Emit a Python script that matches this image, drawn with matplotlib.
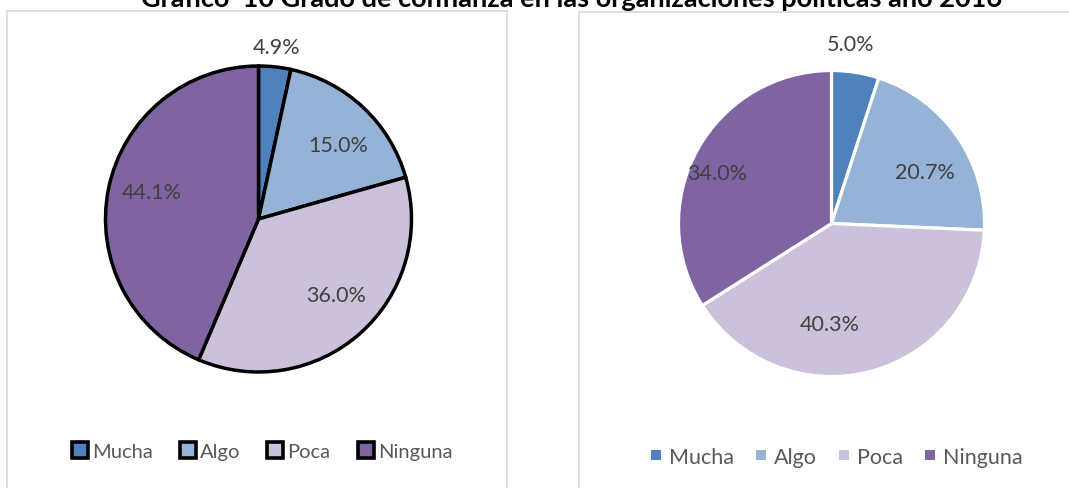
import numpy as np
import matplotlib
matplotlib.use("Agg")
import matplotlib.pyplot as plt
from matplotlib.lines import Line2D
from matplotlib.patches import Rectangle

plt.rcParams["font.family"] = ["Lato", "DejaVu Sans"]

W, H = 1069, 489

TITLE = "Gráfico  10 Grado de confianza en las organizaciones políticas año 2016"
categories = ["Mucha", "Algo", "Poca", "Ninguna"]
colors = ["#4F81BD", "#95B3D7", "#CCC1DA", "#8064A2"]

# left chart: slice shares as drawn, and the percentages printed on it
left_shares = [3.4, 17.2, 35.8, 43.6]
left_pct = [4.9, 15.0, 36.0, 44.1]
# right chart
right_shares = [5.0, 20.7, 40.3, 34.0]
right_pct = [5.0, 20.7, 40.3, 34.0]

LABEL_COLOR = "#404040"
LEGEND_COLOR = "#595959"


def px_axes(fig, x0, y0, x1, y1):
    # pixel box (top-left origin) -> figure axes
    return fig.add_axes([x0 / W, 1 - y1 / H, (x1 - x0) / W, (y1 - y0) / H])


def draw_pie(ax, shares, pct, edge, lw, label_r, label_dt):
    wedges, _ = ax.pie(shares, colors=colors, startangle=90, counterclock=False,
                       wedgeprops=dict(edgecolor=edge, linewidth=lw))
    for w, p, r, dt in zip(wedges, pct, label_r, label_dt):
        mid = np.deg2rad((w.theta1 + w.theta2) / 2 - dt)
        ax.text(r * np.cos(mid), r * np.sin(mid), f"{p:.1f}%", ha="center", va="center",
                fontsize=15.5, color=LABEL_COLOR)
    ax.set_xlim(-1, 1)
    ax.set_ylim(-1, 1)
    ax.set_aspect("equal")
    ax.axis("off")


fig = plt.figure(figsize=(W / 100, H / 100), dpi=100)

# panel frames
fig.patches.append(Rectangle((7 / W, -0.1), 500 / W, 1.1 - 12 / H, transform=fig.transFigure,
                             fill=False, edgecolor="#D9D9D9", linewidth=1.2))
fig.patches.append(Rectangle((579 / W, -0.1), 0.5, 1.1 - 13 / H, transform=fig.transFigure,
                             fill=False, edgecolor="#D9D9D9", linewidth=1.2))

# title is clipped at the top edge, as in the source image
fig.text(572 / W, 1 - 7 / H, TITLE, ha="center", va="baseline", fontsize=19.5,
         fontweight="bold", color="black")

ax1 = px_axes(fig, 105.5, 67, 411.5, 373)
draw_pie(ax1, left_shares, left_pct, "black", 2.5,
         [1.13, 0.71, 0.71, 0.72], [0, 4, -4.5, 2.7])

ax2 = px_axes(fig, 678.5, 71.5, 984.5, 377.5)
draw_pie(ax2, right_shares, right_pct, "white", 2.3,
         [1.18, 0.70, 0.66, 0.82], [-3, 6, 16, -5])

h1 = [Line2D([], [], linestyle="none", marker="s", markersize=11, markerfacecolor=c,
             markeredgecolor="black", markeredgewidth=2.6) for c in colors]
fig.legend(h1, categories, loc="center", bbox_to_anchor=(262 / W, 1 - 452 / H), ncol=4,
           frameon=False, fontsize=14.5, handlelength=0.8, handletextpad=0.2,
           columnspacing=1.35, labelcolor=LEGEND_COLOR)

h2 = [Line2D([], [], linestyle="none", marker="s", markersize=7, markerfacecolor=c,
             markeredgewidth=0) for c in colors]
fig.legend(h2, categories, loc="center", bbox_to_anchor=(836 / W, 1 - 458 / H), ncol=4,
           frameon=False, fontsize=15.5, handlelength=0.6, handletextpad=0.3,
           columnspacing=0.95, labelcolor=LEGEND_COLOR)

fig.savefig("out.png", dpi=100)
